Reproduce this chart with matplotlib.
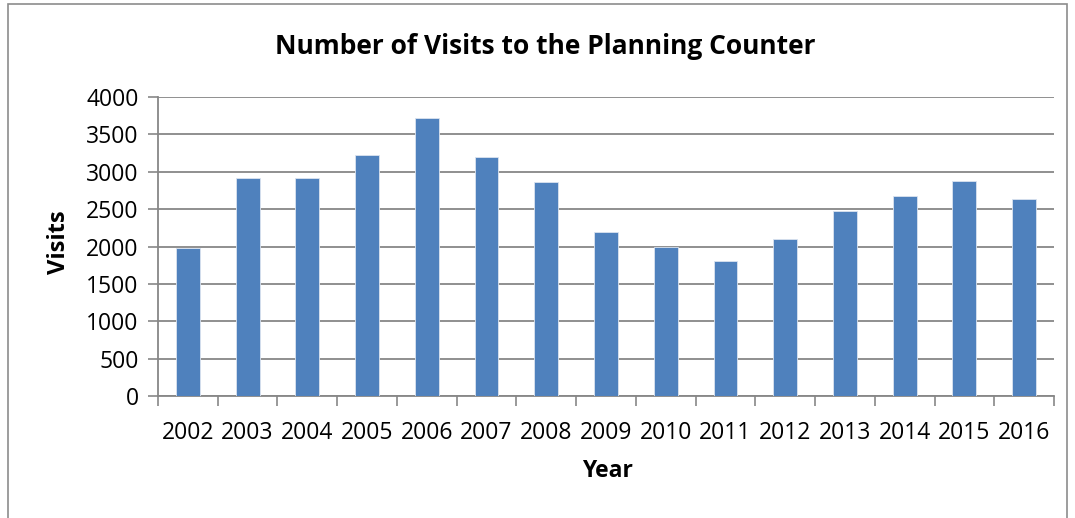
import matplotlib
matplotlib.use("Agg")
import matplotlib.pyplot as plt
from matplotlib.patches import Rectangle

# Data
years = ["2002", "2003", "2004", "2005", "2006", "2007", "2008", "2009",
         "2010", "2011", "2012", "2013", "2014", "2015", "2016"]
visits = [1980, 2912, 2912, 3220, 3719, 3193, 2863, 2194,
          1998, 1810, 2100, 2479, 2671, 2881, 2640]
y_ticks = [0, 500, 1000, 1500, 2000, 2500, 3000, 3500, 4000]

plt.rcParams['font.family'] = ['Open Sans', 'DejaVu Sans']

W, H = 1075, 518
fig = plt.figure(figsize=(W / 100, H / 100), dpi=100)
ax = fig.add_axes([158 / W, 1 - 396 / H, (1054 - 158) / W, (396 - 97) / H])

grid_color = '#878787'
x = range(len(years))
ax.bar(x, visits, width=0.4, color='#4f81bd', edgecolor='#dbe4f0', linewidth=0.6, zorder=3)

ax.set_xlim(-0.5, len(years) - 0.5)
ax.set_ylim(0, 4000)
ax.set_yticks(y_ticks)
ax.set_xticks([i - 0.5 for i in range(len(years) + 1)], minor=False)
ax.set_xticklabels([])
ax.set_xticks(list(x), minor=True)
ax.set_xticklabels(years, minor=True)
ax.tick_params(axis='x', which='minor', length=0, pad=18, labelsize=16.5)
ax.tick_params(axis='x', which='major', length=7, color=grid_color, width=1.2)
ax.tick_params(axis='y', length=7, color=grid_color, width=1.2, labelsize=16.5, pad=7)

ax.grid(axis='y', color=grid_color, linewidth=1.3, zorder=0)
for side in ['top', 'right']:
    ax.spines[side].set_visible(False)
for side in ['left', 'bottom']:
    ax.spines[side].set_color(grid_color)
    ax.spines[side].set_linewidth(1.3)

fig.text(545 / W, 1 - 46 / H, "Number of Visits to the Planning Counter",
         ha='center', va='center', fontsize=19, fontweight='bold')
fig.text(59 / W, 1 - 242 / H, "Visits", ha='center', va='center',
         rotation=90, fontsize=17, fontweight='bold')
fig.text(607 / W, 1 - 471 / H, "Year", ha='center', va='center',
         fontsize=16.5, fontweight='bold')

# outer chart border
fig.patches.append(Rectangle((8 / W, -0.01), (1067 - 8) / W, 1 - 4 / H + 0.01,
                             transform=fig.transFigure, fill=False,
                             edgecolor='#8c8c8c', linewidth=1.2))

fig.savefig("out.png", dpi=100)
